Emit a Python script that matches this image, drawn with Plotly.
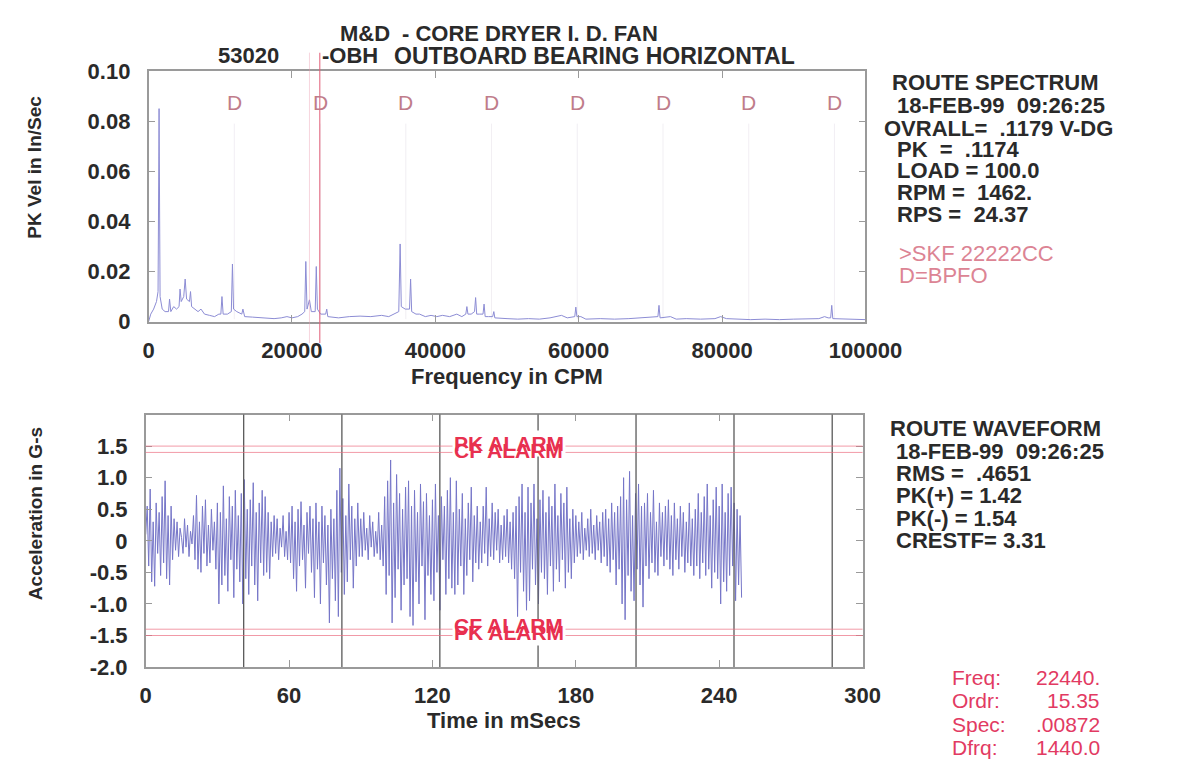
import numpy as np
import plotly.graph_objects as go

# ---------------- data ----------------
spec_freq = [
    0, 300, 700, 1100, 1320, 1462, 1600, 1900, 2300, 2780,
    2924, 3100, 3500, 3900, 4250, 4386, 4550, 4900, 5100, 5300,
    5700, 5848, 6000, 6400, 6900, 7310, 7800, 8500, 9200, 9800,
    10080, 10234, 10400, 11000, 11540, 11696, 11850, 12300, 13000, 13158,
    13400, 14500, 15500, 16500, 17500, 18500, 19300, 20000, 20800, 21400,
    21780, 21930, 22100, 22440, 22700, 23240, 23390, 23550, 24000, 24700,
    24850, 25000, 26500, 28000, 29500, 31000, 32500, 33500, 34300, 34900,
    35090, 35250, 35800, 36400, 36550, 36700, 37300, 37800, 38600, 39400,
    40200, 41000, 42000, 43000, 43700, 44250, 44400, 44550, 45000, 45470,
    45620, 45770, 46200, 46650, 46800, 46950, 47400, 48000, 48160, 48300,
    50000, 51500, 53000, 54500, 56000, 56800, 57600, 58400, 59450, 59600,
    59750, 60300, 61000, 63000, 65000, 67000, 69000, 70500, 71050, 71200,
    71350, 72800, 73600, 75000, 77000, 79000, 79800, 80600, 82000, 84000,
    86000, 88000, 90000, 92000, 93500, 94300, 94800, 95150, 95300, 95450,
    97000, 99000, 100000]
spec_amp = [
    0.0, 0.003, 0.005, 0.008, 0.012, 0.085, 0.010, 0.005, 0.004, 0.004,
    0.009, 0.004, 0.006, 0.005, 0.006, 0.013, 0.008, 0.010, 0.017, 0.009,
    0.008, 0.012, 0.006, 0.005, 0.004, 0.005, 0.003, 0.0025, 0.002, 0.003,
    0.003, 0.010, 0.003, 0.003, 0.004, 0.023, 0.005, 0.004, 0.003, 0.005,
    0.002, 0.0018, 0.0015, 0.0015, 0.0012, 0.0015, 0.002, 0.0015, 0.002, 0.003,
    0.004, 0.024, 0.005, 0.0087, 0.004, 0.004, 0.022, 0.005, 0.003, 0.003,
    0.005, 0.002, 0.0015, 0.002, 0.0022, 0.002, 0.0025, 0.002, 0.003, 0.004,
    0.031, 0.006, 0.005, 0.005, 0.017, 0.004, 0.003, 0.003, 0.002, 0.0025,
    0.002, 0.0025, 0.002, 0.003, 0.002, 0.003, 0.006, 0.003, 0.003, 0.004,
    0.0096, 0.003, 0.003, 0.003, 0.007, 0.002, 0.002, 0.002, 0.004, 0.0015,
    0.0012, 0.001, 0.0012, 0.001, 0.0015, 0.002, 0.0025, 0.0015, 0.002, 0.0058,
    0.002, 0.002, 0.001, 0.0012, 0.001, 0.0012, 0.0015, 0.002, 0.002, 0.0065,
    0.0015, 0.002, 0.001, 0.0012, 0.001, 0.0012, 0.002, 0.0012, 0.001, 0.0008,
    0.001, 0.0008, 0.001, 0.001, 0.0012, 0.002, 0.0015, 0.0015, 0.0065, 0.0012,
    0.001, 0.0008, 0.0008]
assert len(spec_freq) == len(spec_amp)

bpfo_freqs = [11960, 23920, 35880, 47840, 59800, 71760, 83720, 95680]
cursor_freq = 22440
cursor_dfrq_freq = 23880

wave_dt_ms = 0.625
wave = [
    0.10, 0.55, -0.40, 0.82, -0.65, 0.30, -0.72, 0.60, -0.20, 0.45, -0.55, 0.70, -0.35, 0.95, -0.60, 0.40,
    -0.70, 0.55, -0.30, 0.35, -0.15, 0.30, -0.25, 0.20, 0.05, -0.20, 0.35, -0.10, 0.25, -0.25, 0.15, -0.05,
    0.40, -0.30, 0.72, -0.45, 0.30, -0.50, 0.55, -0.20, 0.65, -0.40, 0.25, -0.35, 0.50, -0.15, 0.30, -0.45,
    0.60, -1.00, 0.45, -0.70, 0.87, -0.55, 0.35, -0.80, 0.70, -0.30, 0.55, -0.90, 0.80, -0.45, 0.40, -0.65,
    0.75, -1.00, 0.97, -0.60, 0.50, -0.85, 0.65, -0.40, 0.92, -0.70, 0.45, -0.95, 0.60, -0.35, 0.80, -0.55,
    0.70, -0.50, 0.45, -0.60, 0.30, -0.25, 0.40, -0.20, 0.35, -0.30, 0.20, -0.10, 0.40, -0.25, 0.15, -0.30,
    0.45, -0.35, 0.55, -0.60, 0.30, -0.80, 0.50, -0.40, 0.62, -0.30, 0.25, -0.75, 0.45, -0.20, 0.55, -0.50,
    0.35, -0.90, 0.60, -0.45, 0.30, -1.00, 0.55, -0.35, 0.40, -0.70, 0.25, -1.30, 0.50, -0.60, 0.35, -0.95,
    0.80, -1.20, 1.15, -0.50, 0.67, -0.85, 0.40, -0.65, 0.90, -0.30, 0.55, -0.75, 0.35, -0.40, 0.60, -0.25,
    0.35, -0.25, 0.45, -0.15, 0.20, -0.30, 0.40, -0.10, 0.30, -0.25, 0.15, -0.20, 0.45, -0.30, 0.25, -0.40,
    0.70, -0.85, 0.95, -0.55, 1.28, -1.30, 0.60, -0.90, 1.05, -0.45, 0.75, -1.10, 0.50, -0.70, 0.85, -0.60,
    0.95, -1.20, 0.55, -1.34, 0.80, -0.65, 0.45, -1.00, 0.90, -0.40, 0.62, -1.25, 0.75, -0.55, 0.40, -0.85,
    0.65, -0.95, 0.90, -0.50, 0.40, -1.10, 0.70, -0.30, 0.55, -0.85, 0.80, -0.60, 1.00, -0.75, 0.45, -0.85,
    0.95, -0.70, 0.50, -0.40, 0.75, -0.85, 0.35, -0.55, 0.60, -0.30, 0.85, -0.65, 0.40, -0.35, 0.55, -0.45,
    0.30, -0.35, 0.55, -0.20, 0.85, -0.40, 0.35, -0.25, 0.60, -0.30, 0.45, -0.15, 0.50, -0.35, 0.25, -0.30,
    0.40, -0.25, 0.50, -0.35, 0.30, -0.45, 0.45, -0.60, 0.55, -1.20, 0.70, -0.50, 0.90, -0.80, 0.45, -1.10,
    0.85, -0.95, 0.60, -0.45, 0.90, -0.70, 0.35, -1.00, 0.65, -0.50, 0.80, -0.60, 0.45, -0.85, 0.70, -0.40,
    0.55, -0.80, 0.90, -0.45, 0.40, -0.65, 0.75, -0.30, 0.60, -0.75, 0.85, -0.50, 0.35, -0.60, 0.50, -0.35,
    0.40, -0.25, 0.30, -0.20, 0.45, -0.30, 0.20, -0.15, 0.35, -0.25, 0.50, -0.20, 0.25, -0.30, 0.40, -0.15,
    0.30, -0.35, 0.45, -0.25, 0.50, -0.40, 0.35, -0.50, 0.60, -0.30, 0.45, -0.70, 0.55, -0.45, 0.70, -1.00,
    1.00, -1.25, 0.65, -0.55, 1.10, -0.80, 0.40, -0.95, 0.75, -0.45, 0.90, -0.70, 0.55, -1.05, 0.60, -0.40,
    0.75, -0.60, 0.45, -0.35, 0.80, -0.50, 0.30, -0.55, 0.60, -0.25, 0.45, -0.40, 0.55, -0.30, 0.65, -0.45,
    0.40, -0.55, 0.60, -0.30, 0.35, -0.45, 0.55, -0.25, 0.45, -0.50, 0.30, -0.35, 0.60, -0.40, 0.35, -0.55,
    0.50, -0.40, 0.75, -0.60, 0.45, -0.35, 0.70, -0.55, 0.90, -0.45, 0.40, -0.75, 0.65, -0.50, 0.85, -0.60,
    0.55, -1.00, 0.90, -0.65, 0.45, -0.80, 0.75, -0.55, 0.85, -0.40, 0.60, -0.95, 0.50, -0.70, 0.40, -0.90,
]
wave_t = np.arange(len(wave)) * wave_dt_ms

rev_marker_ms = [41.0, 82.1, 123.1, 164.2, 205.2, 246.2, 287.3]
pk_alarm = [1.5, -1.5]
cf_alarm = [1.4, -1.4]

spec_yticks = [0, 0.02, 0.04, 0.06, 0.08, 0.10]
spec_yticklabels = ["0", "0.02", "0.04", "0.06", "0.08", "0.10"]
spec_xticks = [0, 20000, 40000, 60000, 80000, 100000]
spec_xticklabels = ["0", "20000", "40000", "60000", "80000", "100000"]
wave_yticks = [-2.0, -1.5, -1.0, -0.5, 0, 0.5, 1.0, 1.5]
wave_yticklabels = ["-2.0", "-1.5", "-1.0", "-0.5", "0", "0.5", "1.0", "1.5"]
wave_xticks = [0, 60, 120, 180, 240, 300]
wave_xticklabels = ["0", "60", "120", "180", "240", "300"]

spectrum_info = ["ROUTE SPECTRUM", "18-FEB-99\u00a0 09:26:25", "OVRALL=\u00a0 .1179 V-DG",
                 "PK\u00a0 =\u00a0 .1174", "LOAD = 100.0", "RPM =\u00a0 1462.", "RPS =\u00a0 24.37"]
spectrum_note = [">SKF 22222CC", "D=BPFO"]
waveform_info = ["ROUTE WAVEFORM", "18-FEB-99\u00a0 09:26:25", "RMS =\u00a0 .4651",
                 "PK(+) = 1.42", "PK(-) = 1.54", "CRESTF= 3.31"]
cursor_labels = ["Freq:", "Ordr:", "Spec:", "Dfrq:"]
cursor_values = ["22440.", "15.35", ".00872", "1440.0"]

# ---------------- layout helpers ----------------
W, H = 1178, 772
def px(x): return x / W
def py(y): return 1 - y / H

MAIN = "Liberation Sans, Arial, sans-serif"
INK = "#2a2a2a"
AXC = "#9a9a9a"

fig = go.Figure()
fig.add_trace(go.Scatter(x=spec_freq, y=spec_amp, mode="lines",
                         line=dict(color="#8c8cd4", width=1), xaxis="x", yaxis="y",
                         showlegend=False, hoverinfo="skip"))
fig.add_trace(go.Scatter(x=wave_t, y=wave, mode="lines",
                         line=dict(color="#7676c8", width=1), xaxis="x2", yaxis="y2",
                         showlegend=False, hoverinfo="skip"))

axis_common = dict(showline=True, linecolor=AXC, linewidth=1.5, mirror="ticks",
                   ticks="inside", ticklen=7, tickcolor=AXC, tickwidth=1.2,
                   showgrid=False, zeroline=False,
                   tickfont=dict(family=MAIN, size=22, color=INK, weight="bold"))

fig.update_layout(
    width=W, height=H, margin=dict(l=0, r=0, t=0, b=0),
    paper_bgcolor="white", plot_bgcolor="white", showlegend=False,
    xaxis=dict(domain=[px(148), px(892)], range=[0, 100000], anchor="y",
               tickvals=spec_xticks, ticktext=spec_xticklabels, ticklabelstandoff=8, **axis_common),
    yaxis=dict(domain=[py(320), py(61)], range=[0, 0.10], anchor="x",
               tickvals=spec_yticks, ticktext=spec_yticklabels, ticklabelstandoff=12, **axis_common),
    xaxis2=dict(domain=[px(145), px(889)], range=[0, 300], anchor="y2",
                tickvals=wave_xticks, ticktext=wave_xticklabels, ticklabelstandoff=8, **axis_common),
    yaxis2=dict(domain=[py(677), py(416)], range=[-2.0, 2.0], anchor="x2",
                tickvals=wave_yticks, ticktext=wave_yticklabels, ticklabelstandoff=12, **axis_common),
)

shapes = []
for f in bpfo_freqs:
    shapes.append(dict(type="line", xref="x", yref="y", x0=f, x1=f, y0=0.001, y1=0.079,
                       line=dict(color="rgba(210,200,215,0.3)", width=1), layer="below"))
shapes.append(dict(type="line", xref="x", yref="paper", x0=cursor_freq, x1=cursor_freq,
                   y0=py(342), y1=py(42), line=dict(color="rgba(235,150,170,0.4)", width=1)))
shapes.append(dict(type="line", xref="x", yref="paper", x0=cursor_dfrq_freq, x1=cursor_dfrq_freq,
                   y0=py(342), y1=py(42), line=dict(color="rgba(225,95,120,0.85)", width=1.2)))
for t in rev_marker_ms:
    shapes.append(dict(type="line", xref="x2", yref="y2 domain", x0=t, x1=t, y0=0, y1=1,
                       line=dict(color="#5a5a5a", width=1.3)))
for v in pk_alarm + cf_alarm:
    shapes.append(dict(type="line", xref="x2 domain", yref="y2", x0=0, x1=1, y0=v, y1=v,
                       line=dict(color="rgba(235,110,130,0.7)", width=1)))
fig.update_layout(shapes=shapes)

ann = []
def text(x, y, s, size=22, color=INK, family=MAIN, weight="bold", xanchor="left", **kw):
    ann.append(dict(x=px(x), y=py(y), xref="paper", yref="paper", text=s, showarrow=False,
                    xanchor=xanchor, yanchor="middle",
                    font=dict(family=family, size=size, color=color, weight=weight), **kw))

# titles
text(345, 22, "M&amp;D", size=22)
text(409, 22, "- CORE DRYER I. D. FAN", size=22)
text(218, 45, "53020", size=22)
text(326, 45, "-OBH", size=22)
text(401, 45, "OUTBOARD BEARING HORIZONTAL", size=23)

# axis titles
text(520, 377, "Frequency in CPM", xanchor="center")
text(517, 732, "Time in mSecs", xanchor="center")
ann.append(dict(x=px(30), y=py(160), xref="paper", yref="paper", text="PK Vel in In/Sec",
                showarrow=False, textangle=-90, xanchor="center", yanchor="middle",
                font=dict(family=MAIN, size=19, color=INK, weight="bold")))
ann.append(dict(x=px(30), y=py(518), xref="paper", yref="paper", text="Acceleration in G-s",
                showarrow=False, textangle=-90, xanchor="center", yanchor="middle",
                font=dict(family=MAIN, size=19, color=INK, weight="bold")))

# D markers
for f in bpfo_freqs:
    ann.append(dict(x=f, y=0.0873, xref="x", yref="y", text="D", showarrow=False,
                    xanchor="center", yanchor="middle",
                    font=dict(family=MAIN, size=21, color="#c07c8a")))

# right info blocks
spec_x = [917, 923, 909, 923, 923, 923, 923]
spec_y = [73, 97, 120, 142, 164, 187, 209]
for s, x, y in zip(spectrum_info, spec_x, spec_y):
    text(x, y, s)
for s, y in zip(spectrum_note, [250, 272]):
    text(925, y, s, color="#dc8494", weight="normal")

wave_x = [915, 922, 922, 922, 922, 922]
wave_y = [430, 454, 477, 500, 523, 546]
for s, x, y in zip(waveform_info, wave_x, wave_y):
    text(x, y, s)

for s, v, y in zip(cursor_labels, cursor_values, [688, 712, 736, 760]):
    text(980, y, s, size=21, color="#e23a62", weight="normal")
    text(1138, y, v, size=21, color="#e23a62", weight="normal", xanchor="right")

# alarm labels (overlapping PK / CF, as in the reference)
for yv, s, bg in [(1.54, "PK ALARM", "white"), (1.43, "CF ALARM", None),
                  (-1.45, "PK ALARM", "white"), (-1.34, "CF ALARM", None)]:
    a = dict(x=152, y=yv, xref="x2", yref="y2", text=s, showarrow=False,
             xanchor="center", yanchor="middle",
             font=dict(family=MAIN, size=21, color="#e8304f", weight="bold"))
    if bg:
        a["bgcolor"] = bg
    ann.append(a)

fig.update_layout(annotations=ann)
fig.write_html("out.html", config={"displayModeBar": False},
               post_script="document.body.style.margin='0';")
